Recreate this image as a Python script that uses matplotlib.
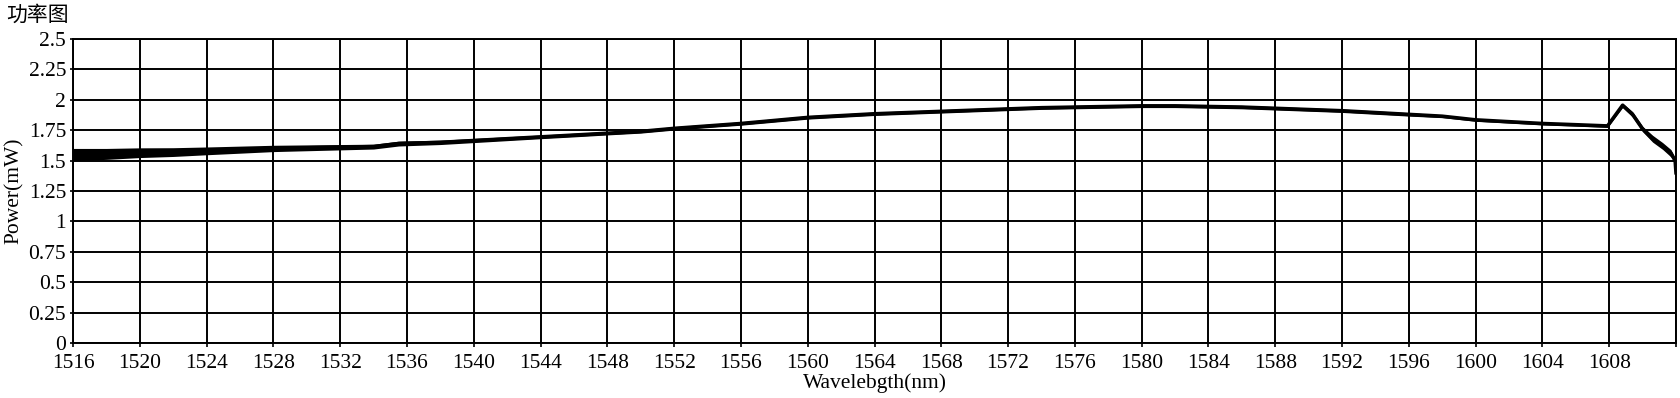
import matplotlib
matplotlib.use("Agg")
import matplotlib.pyplot as plt
import numpy as np

# Data
wavelength = [1516, 1518, 1520, 1522, 1524, 1526, 1528, 1530, 1532, 1534, 1535.5,
              1538, 1540, 1542, 1544, 1546, 1548, 1550, 1552, 1554, 1556, 1558,
              1560, 1562, 1564, 1566, 1568, 1570, 1572, 1574, 1576, 1578, 1580,
              1582, 1584, 1586, 1588, 1590, 1592, 1594, 1596, 1598, 1600, 1602,
              1604, 1606, 1607.9, 1608.8, 1609.4, 1610.0, 1610.6, 1611.2, 1611.7,
              1611.95, 1612.0]
power = [1.55, 1.555, 1.565, 1.57, 1.58, 1.59, 1.60, 1.605, 1.61, 1.615, 1.64,
         1.65, 1.665, 1.68, 1.695, 1.71, 1.725, 1.74, 1.765, 1.785, 1.805, 1.83,
         1.855, 1.87, 1.885, 1.895, 1.905, 1.915, 1.925, 1.935, 1.94, 1.945, 1.95,
         1.95, 1.945, 1.94, 1.93, 1.92, 1.91, 1.895, 1.88, 1.865, 1.835, 1.82,
         1.805, 1.795, 1.785, 1.955, 1.88, 1.76, 1.68, 1.62, 1.56,
         1.50, 1.40]
noise_band = [0.05, 0.045, 0.04, 0.036, 0.032, 0.029, 0.026, 0.024, 0.022, 0.02, 0.02,
              0.018, 0.017, 0.016, 0.015, 0.015, 0.014, 0.014, 0.014, 0.014, 0.014, 0.014,
              0.014, 0.014, 0.014, 0.014, 0.014, 0.014, 0.014, 0.014, 0.014, 0.014, 0.014,
              0.014, 0.014, 0.014, 0.014, 0.014, 0.014, 0.014, 0.014, 0.012, 0.012, 0.012,
              0.012, 0.012, 0.012, 0.018, 0.022, 0.022, 0.028, 0.028, 0.03,
              0.02, 0.01]

x_ticks = list(range(1516, 1613, 4))
x_tick_labels = [str(t) if t <= 1608 else "" for t in x_ticks]
y_ticks = [0, 0.25, 0.5, 0.75, 1, 1.25, 1.5, 1.75, 2, 2.25, 2.5]
y_tick_labels = ["0", "0.25", "0.5", "0.75", "1", "1.25", "1.5", "1.75", "2", "2.25", "2.5"]

plt.rcParams['font.family'] = ['Liberation Serif', 'Noto Sans CJK SC']

fig = plt.figure(figsize=(16.81, 3.98), dpi=100)
ax = fig.add_axes([73/1681, 1-343/398, (1676-73)/1681, (343-39)/398])

w = np.array(wavelength)
p = np.array(power)
b = np.array(noise_band)
ax.fill_between(w, p - b, p + b, color='black', linewidth=0)
ax.plot(w, p, color='black', linewidth=2.6)

ax.set_xlim(1516, 1612)
ax.set_ylim(0, 2.5)
ax.set_xticks(x_ticks)
ax.set_xticklabels(x_tick_labels, fontsize=15.5)
ax.set_yticks(y_ticks)
ax.set_yticklabels(y_tick_labels, fontsize=15.5)
ax.grid(True, color='black', linewidth=1.4)
ax.set_axisbelow(True)
for s in ax.spines.values():
    s.set_linewidth(1.4)
    s.set_color('black')
ax.tick_params(axis='x', direction='out', length=3, width=1.2, pad=5)
ax.tick_params(axis='y', direction='out', length=2, width=1.2, pad=3)
for lbl in ax.get_yticklabels():
    lbl.set_verticalalignment('center_baseline')

ax.set_xlabel("Wavelebgth(nm)", fontsize=15.5, labelpad=0)
ax.set_ylabel("Power(mW)", fontsize=15.5, labelpad=3)

fig.text(6/1681, 1-4/398, "功率图", fontsize=15, va='top', ha='left',
         family=['Noto Sans CJK SC'])

fig.savefig("out.png", dpi=100)
